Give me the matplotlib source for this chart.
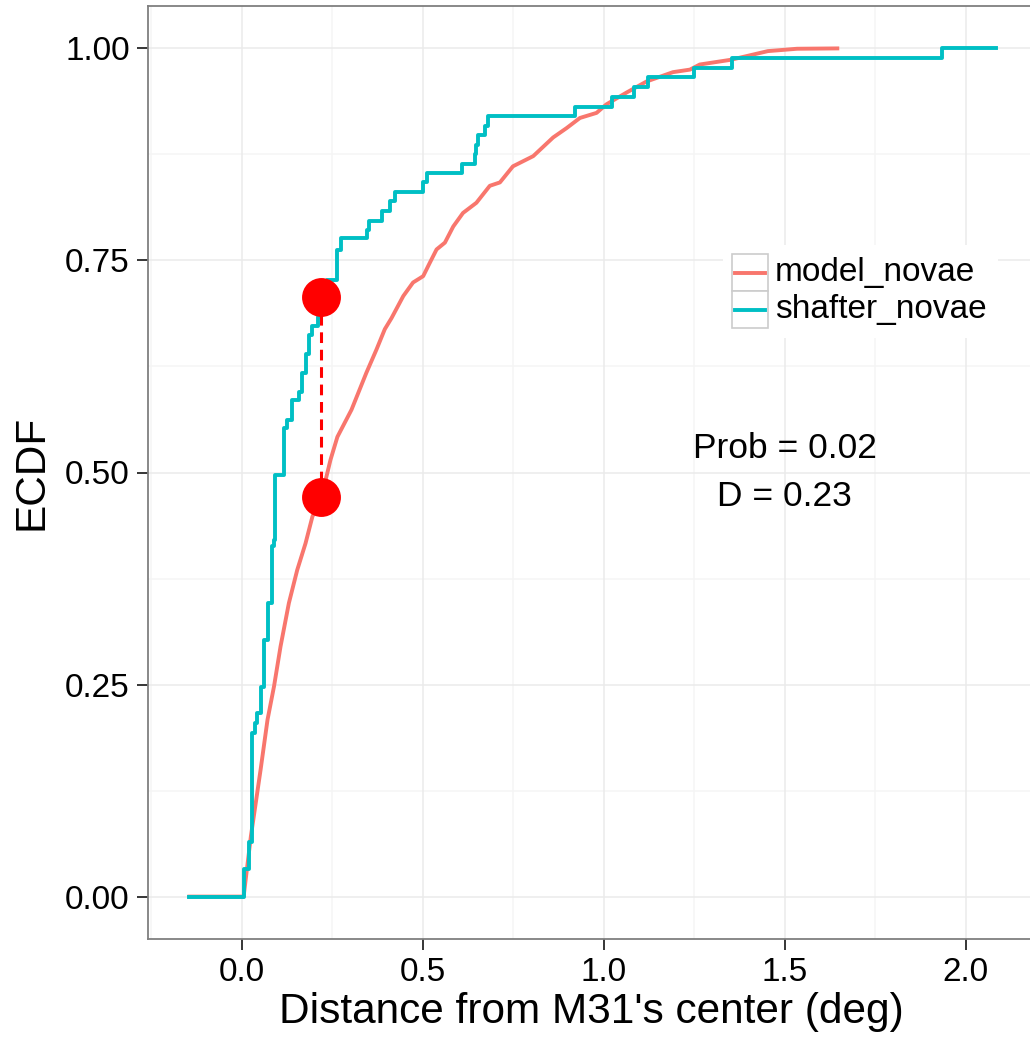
import matplotlib
matplotlib.use('Agg')
import matplotlib.pyplot as plt
import matplotlib.patches as mpatches
from matplotlib.lines import Line2D
import numpy as np

plt.rcParams['font.family'] = ['Liberation Sans', 'DejaVu Sans']

# ── data ─────────────────────────────────────────────────────────────────────
shafter_dist = [-0.145, 0.007, 0.020, 0.029, 0.036, 0.043, 0.052, 0.061, 0.071, 0.083,
                0.088, 0.092, 0.117, 0.125, 0.140, 0.158, 0.167, 0.176, 0.185, 0.195,
                0.210, 0.220, 0.236, 0.264, 0.273, 0.345, 0.351, 0.388, 0.410, 0.424,
                0.500, 0.511, 0.608, 0.645, 0.648, 0.652, 0.672, 0.680, 0.921, 1.023,
                1.084, 1.121, 1.249, 1.353, 1.933, 2.082]
shafter_ecdf = [0.0, 0.032, 0.064, 0.193, 0.205, 0.217, 0.247, 0.303, 0.346, 0.413,
                0.420, 0.497, 0.552, 0.562, 0.585, 0.595, 0.617, 0.640, 0.662, 0.673,
                0.683, 0.707, 0.727, 0.762, 0.776, 0.786, 0.797, 0.808, 0.820, 0.831,
                0.842, 0.853, 0.864, 0.875, 0.886, 0.898, 0.909, 0.920, 0.931, 0.943,
                0.954, 0.966, 0.977, 0.989, 1.0, 1.0]

model_dist = [-0.145, 0.005, 0.025, 0.052, 0.071, 0.089, 0.107, 0.130, 0.153, 0.176,
              0.195, 0.220, 0.245, 0.264, 0.303, 0.344, 0.372, 0.395, 0.4135, 0.446,
              0.473, 0.501, 0.519, 0.538, 0.561, 0.584, 0.611, 0.648, 0.685, 0.713,
              0.749, 0.805, 0.860, 0.897, 0.934, 0.980, 1.007, 1.063, 1.118, 1.191,
              1.238, 1.265, 1.351, 1.453, 1.534, 1.645]
model_ecdf = [0.0, 0.0, 0.071, 0.150, 0.2085, 0.248, 0.295, 0.346, 0.385, 0.4165,
              0.448, 0.471, 0.515, 0.542, 0.574, 0.6175, 0.645, 0.669, 0.682, 0.708,
              0.724, 0.7315, 0.747, 0.763, 0.771, 0.790, 0.806, 0.818, 0.838, 0.842,
              0.861, 0.873, 0.895, 0.906, 0.918, 0.924, 0.934, 0.948, 0.961, 0.972,
              0.975, 0.981, 0.9866, 0.9968, 0.9996, 1.0]

ks_x = [0.22, 0.22]
ks_y = [0.707, 0.471]
ks_prob = 0.02
ks_d = 0.23

series_names = ['model_novae', 'shafter_novae']
series_colors = ['#F8766D', '#00BFC4']

x_ticks = [0.0, 0.5, 1.0, 1.5, 2.0]
x_minor = [-0.25, 0.25, 0.75, 1.25, 1.75]
y_ticks = [0.0, 0.25, 0.5, 0.75, 1.0]
y_minor = [0.125, 0.375, 0.625, 0.875]

# ── figure ───────────────────────────────────────────────────────────────────
W, H = 1030, 1042
fig = plt.figure(figsize=(W / 100, H / 100), dpi=100)
fig.patch.set_facecolor('white')

# panel in pixels (right edge runs off the image like the reference)
left_px, right_px, top_px, bot_px = 147.7, 1034.6, 6, 939
ax = fig.add_axes([left_px / W, 1 - bot_px / H,
                   (right_px - left_px) / W, (bot_px - top_px) / H])
ax.set_xlim(-0.26, 2.19)
ax.set_ylim(-0.05, 1.05)

# grid
for v in x_minor:
    ax.axvline(v, color='#F5F5F5', lw=1.1, zorder=0)
for v in y_minor:
    ax.axhline(v, color='#F5F5F5', lw=1.1, zorder=0)
for v in x_ticks:
    ax.axvline(v, color='#EBEBEB', lw=1.1, zorder=0)
for v in y_ticks:
    ax.axhline(v, color='#EBEBEB', lw=1.1, zorder=0)

# curves
ax.plot(model_dist, model_ecdf, color=series_colors[0], lw=2.8,
        solid_joinstyle='round', zorder=3)
ax.step(shafter_dist, shafter_ecdf, where='post', color=series_colors[1], lw=2.8,
        zorder=4)

# KS distance
ax.plot(ks_x, ks_y, color='#FF0000', lw=2.2, ls=(0, (3.5, 2.2)), zorder=5)
ax.plot(ks_x, ks_y, 'o', color='#FF0000', ms=28, mec='none', zorder=6)

ax.text(1.5, 0.5, f"Prob = {ks_prob:.2f}\nD = {ks_d:.2f}", ha='center', va='center',
        fontsize=25.5, linespacing=1.55, multialignment='center', zorder=7)

# axes styling
ax.set_xticks(x_ticks)
ax.set_xticklabels([f"{v:.1f}" for v in x_ticks])
ax.set_yticks(y_ticks)
ax.set_yticklabels([f"{v:.2f}" for v in y_ticks])
ax.tick_params(axis='both', length=8, width=1.1, color='black', labelsize=24,
               labelcolor='black')
ax.tick_params(axis='x', pad=5)
ax.tick_params(axis='y', pad=5)
for spine in ax.spines.values():
    spine.set_edgecolor('#7F7F7F')
    spine.set_linewidth(1.3)

ax.set_xlabel("Distance from M31's center (deg)", fontsize=30.5, labelpad=3)
ax.set_ylabel("ECDF", fontsize=30.5, labelpad=10)


# legend built by hand so the keys get the grey ggplot boxes
def px2fig(x, y):
    return x / W, 1 - y / H


bx0, by0 = px2fig(723, 338)
bx1, by1 = px2fig(998, 245)
fig.patches.append(mpatches.Rectangle((bx0, by0), bx1 - bx0, by1 - by0,
                                      transform=fig.transFigure, facecolor='white',
                                      edgecolor='none', zorder=8))
key_w, key_h = 36.6, 37
for i, (name, col) in enumerate(zip(series_names, series_colors)):
    ky = 254 + i * key_h
    kx0, ky0 = px2fig(731.7, ky + key_h)
    fig.patches.append(mpatches.Rectangle((kx0, ky0), key_w / W, key_h / H,
                                          transform=fig.transFigure, facecolor='white',
                                          edgecolor='#CCCCCC', lw=1.2, zorder=9))
    lx0, ly = px2fig(735, ky + key_h / 2)
    lx1, _ = px2fig(765, 0)
    fig.lines.append(Line2D([lx0, lx1], [ly, ly], transform=fig.transFigure,
                            color=col, lw=2.8, zorder=10))
    tx, ty = px2fig(775, ky + key_h / 2)
    fig.text(tx, ty, name, ha='left', va='center', fontsize=24, zorder=10)

fig.savefig('out.png', dpi=100, facecolor='white')
